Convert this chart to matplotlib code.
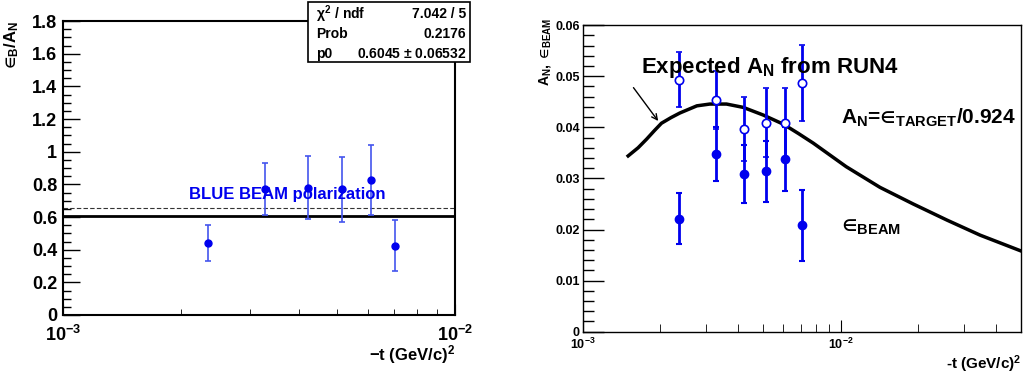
import numpy as np
import matplotlib.pyplot as plt
from matplotlib.ticker import MultipleLocator, LogLocator, NullFormatter, FixedLocator, FixedFormatter
from matplotlib.patches import Rectangle

plt.rcParams['font.family'] = ['Liberation Sans', 'DejaVu Sans']
plt.rcParams['font.weight'] = 'bold'
plt.rcParams['mathtext.fontset'] = 'custom'
plt.rcParams['mathtext.rm'] = 'Liberation Sans:bold'
plt.rcParams['mathtext.it'] = 'Liberation Sans:bold'
plt.rcParams['mathtext.bf'] = 'Liberation Sans:bold'

# left panel: ratio eps_B / A_N
t_ratio = [2.35e-3, 3.28e-3, 4.23e-3, 5.16e-3, 6.11e-3, 7.05e-3]
ratio = [0.443, 0.77, 0.78, 0.77, 0.828, 0.425]
ratio_err = [0.11, 0.16, 0.195, 0.2, 0.215, 0.155]
fit_p0 = 0.6045
blue_pol = 0.653
stats_names = [r'$\chi^{2}$ / ndf', 'Prob', 'p0']
stats_vals = ['7.042 / 5', '0.2176', r'0.6045 $\pm$ 0.06532']

# right panel: A_N and eps_beam
t_beam = [2.36e-3, 3.29e-3, 4.21e-3, 5.13e-3, 6.08e-3, 7.06e-3]
eps_beam = [0.0221, 0.0348, 0.0309, 0.0314, 0.0338, 0.0208]
eps_beam_err = [0.005, 0.0053, 0.0057, 0.006, 0.0063, 0.007]
eps_target = [0.0493, 0.0453, 0.0397, 0.0409, 0.0408, 0.0487]
eps_target_err = [0.0054, 0.0057, 0.0063, 0.0068, 0.0069, 0.0075]

t_curve = [1.50e-3, 1.64e-3, 1.77e-3, 1.90e-3, 2.02e-3, 2.20e-3, 2.38e-3, 2.77e-3,
           3.11e-3, 3.61e-3, 4.19e-3, 5.01e-3, 6.0e-3, 6.85e-3, 7.83e-3, 1.05e-2,
           1.42e-2, 1.91e-2, 2.58e-2, 3.47e-2, 5.0e-2]
an_curve = [0.0344, 0.0360, 0.0377, 0.0394, 0.0408, 0.0419, 0.0428, 0.0442,
            0.04455, 0.04455, 0.0439, 0.0424, 0.0406, 0.0388, 0.0369, 0.0323,
            0.02825, 0.0250, 0.02185, 0.0189, 0.0158]

fig = plt.figure(figsize=(10.25, 3.73), dpi=100)

# ---------------- left ----------------
ax1 = fig.add_axes([0.0612, 0.1555, 0.3827, 0.788])
ax1.set_xscale('log')
ax1.set_xlim(1e-3, 1e-2)
ax1.set_ylim(0, 1.8)
ax1.axhline(fit_p0, color='black', lw=2)
ax1.axhline(blue_pol, color='#333333', lw=0.8, ls=(0, (4, 2)))
ax1.errorbar(t_ratio, ratio, yerr=ratio_err, fmt='o', color='#0000ee', ecolor='#4455ee',
             ms=5, elinewidth=1.2, capsize=2.5, capthick=1.2)
ax1.text(2.1e-3, 0.74, 'BLUE BEAM polarization', color='#0000ee', fontsize=12,
         fontweight='bold', ha='left', va='center')
ax1.set_yticks([0, 0.2, 0.4, 0.6, 0.8, 1.0, 1.2, 1.4, 1.6, 1.8])
ax1.set_yticklabels(['0', '0.2', '0.4', '0.6', '0.8', '1', '1.2', '1.4', '1.6', '1.8'])
ax1.yaxis.set_minor_locator(MultipleLocator(0.05))
ax1.xaxis.set_major_locator(FixedLocator([1e-3, 1e-2]))
ax1.xaxis.set_major_formatter(FixedFormatter([r'$10^{-3}$', r'$10^{-2}$']))
ax1.xaxis.set_minor_locator(LogLocator(base=10, subs=np.arange(2, 10)))
ax1.xaxis.set_minor_formatter(NullFormatter())
ax1.tick_params(axis='both', which='both', direction='in', labelsize=13)
ax1.tick_params(axis='y', which='major', length=12, width=1, pad=4)
ax1.tick_params(axis='y', which='minor', length=6, width=1)
ax1.tick_params(axis='x', which='major', length=8, pad=7)
ax1.tick_params(axis='x', which='minor', length=4)
for s in ax1.spines.values():
    s.set_linewidth(1.5)
ax1.text(-0.13, 1.0, '$\u2208_{B}/A_{N}$', transform=ax1.transAxes, rotation=90,
         ha='center', va='top', fontsize=12)
ax1.text(1.0, -0.095, r'$-$t (GeV/c)$^{2}$', transform=ax1.transAxes,
         ha='right', va='top', fontsize=12)

# stats box
fig.patches.append(Rectangle((308 / 1025, 1 - 62 / 373), 162 / 1025, 60 / 373,
                             transform=fig.transFigure, facecolor='white',
                             edgecolor='black', lw=1.2, zorder=5))
for i, (nm, vl) in enumerate(zip(stats_names, stats_vals)):
    yy = 1 - (14 + 20 * i) / 373
    fig.text(316 / 1025, yy, nm, ha='left', va='center', fontsize=10, zorder=6)
    fig.text(466 / 1025, yy, vl, ha='right', va='center', fontsize=10, zorder=6)

# ---------------- right ----------------
ax2 = fig.add_axes([0.5685, 0.1107, 0.4276, 0.822])
ax2.set_xscale('log')
ax2.set_xlim(1e-3, 5e-2)
ax2.set_ylim(0, 0.06)
ax2.plot(t_curve, an_curve, color='black', lw=2.5)
ax2.errorbar(t_beam, eps_target, yerr=eps_target_err, fmt='o', color='#0000ee',
             mfc='white', mec='#0000ee', ms=6, mew=1.2, elinewidth=2, capsize=2, capthick=1.5)
ax2.errorbar(t_beam, eps_beam, yerr=eps_beam_err, fmt='o', color='#0000ee',
             ms=6, elinewidth=2, capsize=2, capthick=1.5)
ax2.set_yticks([0, 0.01, 0.02, 0.03, 0.04, 0.05, 0.06])
ax2.set_yticklabels(['0', '0.01', '0.02', '0.03', '0.04', '0.05', '0.06'])
ax2.yaxis.set_minor_locator(MultipleLocator(0.002))
ax2.xaxis.set_major_locator(FixedLocator([1e-3, 1e-2]))
ax2.xaxis.set_major_formatter(FixedFormatter([r'$10^{-3}$', r'$10^{-2}$']))
ax2.xaxis.set_minor_locator(LogLocator(base=10, subs=np.arange(2, 10)))
ax2.xaxis.set_minor_formatter(NullFormatter())
ax2.tick_params(axis='both', which='both', direction='in', labelsize=9)
ax2.tick_params(axis='y', which='major', length=15, width=1, pad=2)
ax2.tick_params(axis='y', which='minor', length=8, width=1)
ax2.tick_params(axis='x', which='major', length=9, pad=4)
ax2.tick_params(axis='x', which='minor', length=6)
for s in ax2.spines.values():
    s.set_linewidth(1)
ax2.text(-0.085, 1.025, '$A_{N},\\ \u2208_{BEAM}$', transform=ax2.transAxes, rotation=90,
         ha='center', va='top', fontsize=10)
ax2.text(1.0, -0.07, r'-t (GeV/c)$^{2}$', transform=ax2.transAxes,
         ha='right', va='top', fontsize=11)
ax2.text(1.68e-3, 0.0518, r'Expected A$_{\mathrm{N}}$ from RUN4', fontsize=16,
         ha='left', va='center')
ax2.annotate('', xy=(1.99e-3, 0.0408), xytext=(1.55e-3, 0.0482),
             arrowprops=dict(arrowstyle='->', color='black', lw=1))
ax2.text(1.0e-2, 0.0418, 'A$_{N}$=$\u2208_{TARGET}$/0.924', fontsize=15,
         ha='left', va='center')
ax2.text(1.0e-2, 0.0205, '$\u2208_{BEAM}$', fontsize=15, ha='left', va='center')

fig.savefig('out.png', dpi=100)
